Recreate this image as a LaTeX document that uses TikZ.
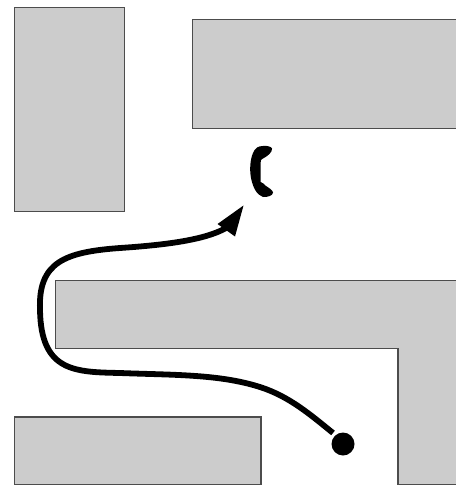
\documentclass[tikz,border=0pt]{standalone}
\begin{document}
\begin{tikzpicture}[x=1pt,y=-1pt,
  block/.style={fill=black!20,draw=black!70,line width=1.5pt,line join=miter},
  route/.style={draw=black,line width=5.8pt,line cap=butt},
  solid black/.style={fill=black,draw=none}]
\useasboundingbox (0,0) rectangle (455,486);
\draw[block] (14.5,7.5) rectangle (124.5,211.5);
\draw[block] (192.5,19.5) -- (460,19.5) -- (460,128.5) -- (192.5,128.5) -- cycle;
\draw[block] (55.5,280.5) -- (460,280.5) -- (460,484.7) -- (398,484.7) -- (398,348.5) -- (55.5,348.5) -- cycle;
\draw[block] (14.5,417) -- (261,417) -- (261,484.7) -- (14.5,484.7) -- cycle;
% phone
\fill[solid black] (263,146) .. controls (267,145.5) and (271,146.5) .. (272,148.5)
  .. controls (272.5,152) and (268,156) .. (263,158.5)
  .. controls (261,159.5) and (260.7,160) .. (260.7,162) -- (260.7,182)
  .. controls (263,183) and (264,184) .. (266,186)
  .. controls (269,188) and (272.5,190) .. (273,192.5)
  .. controls (272.5,196) and (268,197) .. (263,197)
  .. controls (257,195) and (253,188) .. (251,178)
  .. controls (249.5,170) and (250,160) .. (253,153)
  .. controls (255,148) and (258,146) .. (263,146) -- cycle;
% route
\coordinate (start) at (333,433);
\coordinate (end) at (226,228);
\node[circle,fill=black,inner sep=0pt,minimum size=23pt] (dot) at (343,444) {};
\draw[route] (start) .. controls (305,410) and (285,394) .. (255,385.5)
  .. controls (215,374) and (170,375) .. (120,373)
  .. controls (75,372) and (41,372) .. (40,310)
  .. controls (38,262) and (65,252) .. (120,248)
  .. controls (165,245) and (205,240) .. (end);
\fill[solid black] (243.5,205.5) -- (235,236.5) -- (217.5,224) -- cycle;
\end{tikzpicture}
\end{document}
